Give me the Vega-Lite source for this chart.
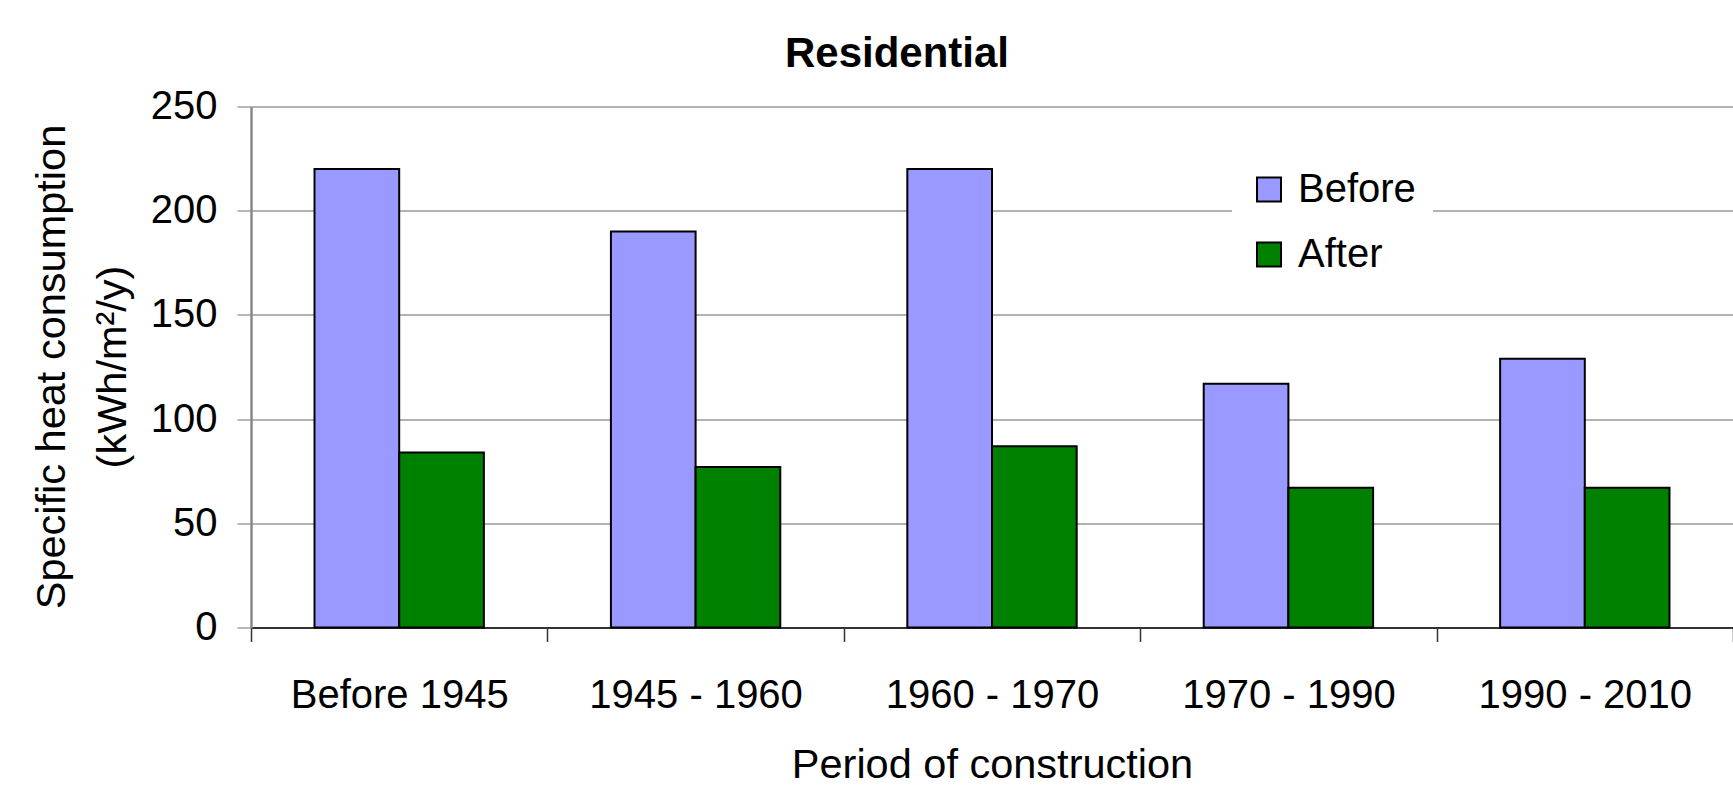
{
  "$schema": "https://vega.github.io/schema/vega-lite/v6.json",
  "autosize": {"type": "none"},
  "width": 1482,
  "height": 521,
  "padding": {"left": 251, "top": 106.5, "right": 0, "bottom": 181.5},
  "background": "white",
  "config": {
    "font": "Liberation Sans",
    "view": {"stroke": null}
  },
  "title": {
    "text": "Residential",
    "font": "Liberation Sans",
    "fontSize": 42,
    "fontWeight": "bold",
    "color": "black",
    "anchor": "middle",
    "frame": "group",
    "dx": -95,
    "offset": 11
  },
  "data": {
    "values": [
      {"period": "Before 1945", "phase": "Before", "value": 220},
      {"period": "Before 1945", "phase": "After", "value": 84},
      {"period": "1945 - 1960", "phase": "Before", "value": 190},
      {"period": "1945 - 1960", "phase": "After", "value": 77},
      {"period": "1960 - 1970", "phase": "Before", "value": 220},
      {"period": "1960 - 1970", "phase": "After", "value": 87},
      {"period": "1970 - 1990", "phase": "Before", "value": 117},
      {"period": "1970 - 1990", "phase": "After", "value": 67},
      {"period": "1990 - 2010", "phase": "Before", "value": 129},
      {"period": "1990 - 2010", "phase": "After", "value": 67}
    ]
  },
  "mark": {"type": "bar", "stroke": "black", "strokeWidth": 2},
  "encoding": {
    "x": {
      "field": "period",
      "type": "nominal",
      "sort": ["Before 1945", "1945 - 1960", "1960 - 1970", "1970 - 1990", "1990 - 2010"],
      "scale": {"paddingInner": 0, "paddingOuter": 0},
      "axis": {
        "title": "Period of construction",
        "titleFontSize": 41.5,
        "titleFontWeight": "normal",
        "titleColor": "black",
        "titleBaseline": "alphabetic",
        "titleY": 150,
        "labelFontSize": 40,
        "labelColor": "black",
        "labelAngle": 0,
        "labelLimit": 0,
        "labelPadding": 34,
        "tickSize": 14,
        "tickColor": "#333333",
        "tickWidth": 1.5,
        "tickBand": "extent",
        "domainColor": "#333333",
        "domainWidth": 2,
        "grid": false
      }
    },
    "xOffset": {
      "field": "phase",
      "type": "nominal",
      "sort": ["Before", "After"],
      "scale": {"paddingInner": 0, "paddingOuter": 0.75}
    },
    "y": {
      "field": "value",
      "type": "quantitative",
      "scale": {"domain": [0, 250], "nice": false},
      "axis": {
        "title": ["Specific heat consumption", "(kWh/m²/y)"],
        "titleFontSize": 41.5,
        "titleFontWeight": "normal",
        "titleColor": "black",
        "titleAngle": -90,
        "titleAlign": "center",
        "titleBaseline": "alphabetic",
        "titleLineHeight": 61,
        "titleX": -187,
        "titleY": 260,
        "values": [0, 50, 100, 150, 200, 250],
        "labelFontSize": 40,
        "labelColor": "black",
        "labelPadding": 20,
        "tickSize": 14,
        "tickColor": "#a0a0a0",
        "tickWidth": 1.5,
        "domainColor": "#888888",
        "domainWidth": 2.5,
        "gridColor": "#999999",
        "gridWidth": 1.5
      }
    },
    "color": {
      "field": "phase",
      "type": "nominal",
      "sort": ["Before", "After"],
      "scale": {"domain": ["Before", "After"], "range": ["#9999FF", "#008000"]},
      "legend": {
        "title": null,
        "orient": "none",
        "legendX": 981,
        "legendY": 46,
        "fillColor": "white",
        "padding": 17,
        "symbolType": "square",
        "symbolSize": 576,
        "symbolStrokeColor": "black",
        "symbolStrokeWidth": 2,
        "symbolOpacity": 1,
        "labelFontSize": 40,
        "labelColor": "black",
        "labelOffset": 9,
        "rowPadding": 25
      }
    }
  }
}
